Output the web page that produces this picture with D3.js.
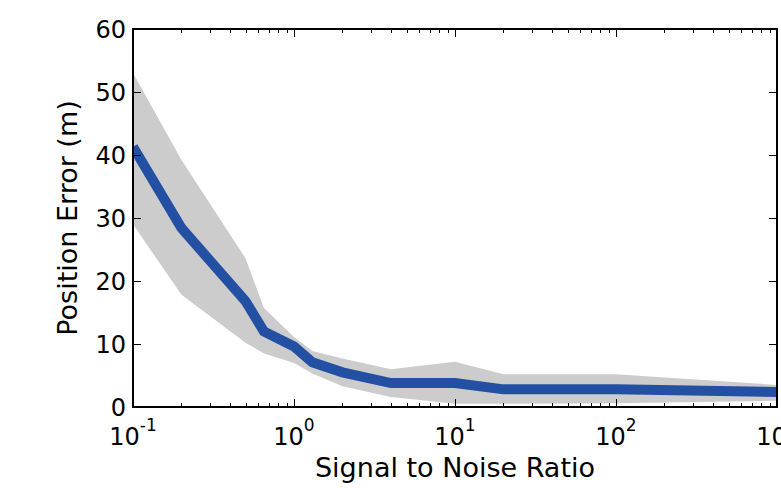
<!DOCTYPE html>
<html>
<head>
<meta charset="utf-8">
<script src="https://cdn.jsdelivr.net/npm/d3@7"></script>
<style>
body { margin: 0; background: #fff; }
text { font-family: "DejaVu Sans", sans-serif; fill: #000; }
</style>
</head>
<body>
<svg id="chart"></svg>
<script>
// Data
var snr = [0.1, 0.2, 0.5, 0.65, 1, 1.3, 2, 4, 10, 20, 100, 1000];
var meanErr = [41.3, 28.4, 16.8, 12, 9.6, 7.1, 5.5, 3.8, 3.8, 2.8, 2.8, 2.4];
var upperErr = [53, 39.2, 23.6, 15.7, 11.1, 8.9, 7.7, 6.0, 7.2, 5.2, 5.2, 3.5];
var lowerErr = [29, 17.8, 10.2, 8.5, 7.0, 5.3, 3.3, 1.6, 0.5, 0.5, 0.6, 1.0];
var yTicks = [0, 10, 20, 30, 40, 50, 60];
var xTicks = [0.1, 1, 10, 100, 1000];
var xExponents = ["-1", "0", "1", "2", "3"];

var width = 781, height = 488;
var margin = {top: 29, right: 4, bottom: 81, left: 133};

var svg = d3.select("#chart")
    .attr("width", width)
    .attr("height", height);

var x = d3.scaleLog()
    .domain([0.1, 1000])
    .range([margin.left, width - margin.right]);

var y = d3.scaleLinear()
    .domain([0, 60])
    .range([height - margin.bottom, margin.top]);

svg.append("clipPath").attr("id", "plotclip")
    .append("rect")
    .attr("x", margin.left).attr("y", margin.top)
    .attr("width", x.range()[1] - x.range()[0])
    .attr("height", y.range()[0] - y.range()[1]);

var pts = snr.map(function(d, i) {
    return {x: d, m: meanErr[i], lo: lowerErr[i], hi: upperErr[i]};
});

// error band
var area = d3.area()
    .x(function(d) { return x(d.x); })
    .y0(function(d) { return y(d.lo); })
    .y1(function(d) { return y(d.hi); });

svg.append("path")
    .datum(pts)
    .attr("clip-path", "url(#plotclip)")
    .attr("d", area)
    .attr("fill", "#cccccc");

// mean line
var line = d3.line()
    .x(function(d) { return x(d.x); })
    .y(function(d) { return y(d.m); });

svg.append("path")
    .datum(pts)
    .attr("clip-path", "url(#plotclip)")
    .attr("d", line)
    .attr("fill", "none")
    .attr("stroke", "#2450a4")
    .attr("stroke-width", 10)
    .attr("stroke-linejoin", "miter");

// ticks (inside, all four sides)
var x0 = x.range()[0], x1 = x.range()[1];
var y0 = y.range()[0], y1 = y.range()[1];
var ticks = svg.append("g").attr("stroke", "#000").attr("stroke-width", 1);

var minor = [];
for (var k = -1; k < 3; k++) {
    for (var m = 2; m < 10; m++) minor.push(m * Math.pow(10, k));
}
minor.forEach(function(v) {
    var px = Math.round(x(v)) + 0.5;
    ticks.append("line").attr("x1", px).attr("x2", px).attr("y1", y0).attr("y2", y0 - 4);
    ticks.append("line").attr("x1", px).attr("x2", px).attr("y1", y1).attr("y2", y1 + 4);
});
xTicks.forEach(function(v) {
    var px = Math.round(x(v)) + 0.5;
    ticks.append("line").attr("x1", px).attr("x2", px).attr("y1", y0).attr("y2", y0 - 8);
    ticks.append("line").attr("x1", px).attr("x2", px).attr("y1", y1).attr("y2", y1 + 8);
});
yTicks.forEach(function(v) {
    var py = Math.round(y(v)) + 0.5;
    ticks.append("line").attr("x1", x0).attr("x2", x0 + 8).attr("y1", py).attr("y2", py);
    ticks.append("line").attr("x1", x1).attr("x2", x1 - 8).attr("y1", py).attr("y2", py);
});

// frame
svg.append("rect")
    .attr("x", x0).attr("y", y1)
    .attr("width", x1 - x0).attr("height", y0 - y1)
    .attr("fill", "none")
    .attr("stroke", "#000")
    .attr("stroke-width", 2);

// y tick labels
svg.append("g").selectAll("text")
    .data(yTicks)
    .enter().append("text")
    .attr("x", x0 - 7)
    .attr("y", function(d) { return y(d); })
    .attr("dy", "0.36em")
    .attr("text-anchor", "end")
    .style("font-size", "24px")
    .text(function(d) { return d; });

// x tick labels, 10^k
var xl = svg.append("g").selectAll("text")
    .data(xTicks)
    .enter().append("text")
    .attr("x", function(d) { return x(d); })
    .attr("y", 445)
    .attr("text-anchor", "middle")
    .style("font-size", "24px");
xl.append("tspan").text("10");
xl.append("tspan")
    .attr("dy", -14)
    .style("font-size", "17px")
    .text(function(d, i) { return xExponents[i]; });

// axis labels
svg.append("text")
    .attr("x", (x0 + x1) / 2)
    .attr("y", 477)
    .attr("text-anchor", "middle")
    .style("font-size", "27px")
    .text("Signal to Noise Ratio");

svg.append("text")
    .attr("transform", "translate(77," + ((y0 + y1) / 2) + ") rotate(-90)")
    .attr("text-anchor", "middle")
    .style("font-size", "27px")
    .text("Position Error (m)");
</script>
</body>
</html>
